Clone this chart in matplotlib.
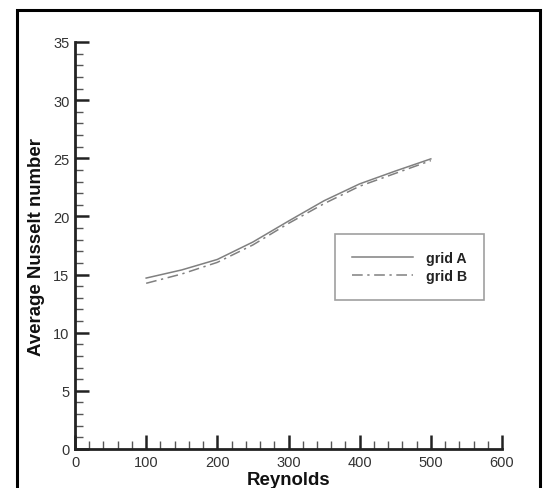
import matplotlib
matplotlib.use("Agg")
import matplotlib.pyplot as plt
from matplotlib.patches import Rectangle
from matplotlib.ticker import MultipleLocator

reynolds = [100, 150, 200, 250, 300, 350, 400, 450, 500]
grid_a = [14.7, 15.4, 16.3, 17.8, 19.6, 21.35, 22.8, 23.9, 24.95]
grid_b = [14.25, 15.05, 16.05, 17.55, 19.4, 21.1, 22.6, 23.7, 24.8]
series_labels = ["grid A", "grid B"]
x_label = "Reynolds"
y_label = "Average Nusselt number"

W, H = 543, 489
plt.rcParams['font.family'] = ['Liberation Sans', 'DejaVu Sans']
fig = plt.figure(figsize=(W / 100, H / 100), dpi=100)
fig.patch.set_facecolor('white')

# outer frame
fig.patches.append(Rectangle((17 / W, -0.05), (540 - 17) / W, 1.05 - 11 / H,
                             transform=fig.transFigure, fill=False,
                             edgecolor='black', linewidth=2.2, zorder=0))

left, right, bottom, top = 75 / W, 502 / W, 1 - 450 / H, 1 - 43 / H
ax = fig.add_axes([left, bottom, right - left, top - bottom])
ax.set_facecolor('none')

ax.plot(reynolds, grid_a, color='#808080', linewidth=1.1, linestyle='-', label=series_labels[0])
ax.plot(reynolds, grid_b, color='#808080', linewidth=1.1, linestyle=(0, (7, 3, 1.5, 3)), label=series_labels[1])

ax.set_xlim(0, 600)
ax.set_ylim(0, 35)
ax.xaxis.set_major_locator(MultipleLocator(100))
ax.xaxis.set_minor_locator(MultipleLocator(20))
ax.yaxis.set_major_locator(MultipleLocator(5))
ax.yaxis.set_minor_locator(MultipleLocator(1))

for s in ['top', 'right']:
    ax.spines[s].set_visible(False)
for s in ['left', 'bottom']:
    ax.spines[s].set_linewidth(2)
    ax.spines[s].set_color('#222222')

ax.tick_params(which='major', direction='in', length=10, width=1.8, color='#222222',
               labelsize=10.5, labelcolor='#333333')
ax.tick_params(which='minor', direction='in', length=5.5, width=1, color='#555555')
ax.tick_params(axis='x', which='major', pad=4)
ax.tick_params(axis='y', which='major', pad=4)

ax.set_xlabel(x_label, fontsize=13.4, fontweight='bold', labelpad=2, color='#111111')
ax.set_ylabel(y_label, fontsize=13.4, fontweight='bold', labelpad=6, color='#111111')

leg = ax.legend(loc='upper left', bbox_to_anchor=(335 / W, 1 - 235 / H),
                bbox_transform=fig.transFigure, frameon=True, fancybox=False,
                edgecolor='#888888', handlelength=4.3, handletextpad=0.9,
                borderpad=1.2, labelspacing=0.3, borderaxespad=0,
                prop={'weight': 'bold', 'size': 10.2})
leg.get_frame().set_linewidth(1.2)
for t in leg.get_texts():
    t.set_color('#222222')

fig.savefig("out.png", dpi=100, facecolor='white')
